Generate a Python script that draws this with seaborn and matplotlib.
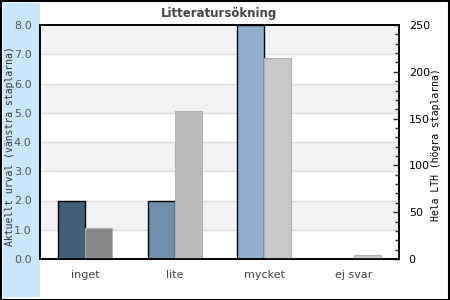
import numpy as np
import pandas as pd
import matplotlib
matplotlib.use("Agg")
import matplotlib.pyplot as plt
import seaborn as sns
from matplotlib.patches import Rectangle
from matplotlib.ticker import MultipleLocator, FormatStrFormatter

categories = ["inget", "lite", "mycket", "ej svar"]
left_values = [2.0, 2.0, 8.0, 0.0]        # Aktuellt urval
right_values = [33, 158, 215, 4]          # Hela LTH
left_colors = ["#3f5f7b", "#6f8fab", "#8eb0cc", "#a8c4da"]
right_colors = ["#888888", "#bbbbbb", "#c8c8c8", "#cccccc"]
title = "Litteratursökning"
left_label = "Aktuellt urval (vänstra staplarna)"
right_label = "Hela LTH (högra staplarna)"

series = ["vänster", "höger"]
df_left = pd.DataFrame({"cat": categories, "serie": series[0], "value": left_values})
df_right = pd.DataFrame({"cat": categories, "serie": series[1], "value": right_values})

sns.set_style("white")
plt.rcParams["font.family"] = ["DejaVu Sans"]

fig = plt.figure(figsize=(4.5, 3.0), dpi=100)
# light blue panel on the left
fig.patches.append(Rectangle((3 / 450, 3 / 300), 37 / 450, 294 / 300,
                             transform=fig.transFigure, facecolor="#c8e7fb",
                             edgecolor="none", zorder=-5))
# outer border
fig.patches.append(Rectangle((0.5 / 450, 0.5 / 300), 448.5 / 450, 298.5 / 300,
                             transform=fig.transFigure, facecolor="none",
                             edgecolor="black", linewidth=1.5, zorder=5))

ax = fig.add_axes([40 / 450, 41 / 300, 359 / 450, 234 / 300])
ax.set_facecolor("white")
for lo in range(0, 8):
    if lo % 2 == 1:
        ax.axhspan(lo, lo + 1, color="#f2f2f2", zorder=0, lw=0)
    if lo > 0:
        ax.axhline(lo, color="#dddddd", lw=1, zorder=0.5)

sns.barplot(data=df_left, x="cat", y="value", hue="serie", hue_order=series,
            order=categories, dodge=True, width=0.6, ax=ax, legend=False,
            errorbar=None, zorder=2)
ax.set_ylim(0, 8)
ax.set_xlim(-0.5, 3.5)

ax2 = ax.twinx()
sns.barplot(data=df_right, x="cat", y="value", hue="serie", hue_order=series,
            order=categories, dodge=True, width=0.6, ax=ax2, legend=False,
            errorbar=None, zorder=2)
ax2.set_ylim(0, 250)
ax2.set_xlim(-0.5, 3.5)

lp = sorted([p for p in ax.patches if isinstance(p, Rectangle) and abs(p.get_width() - 0.3) < 0.01], key=lambda p: p.get_x())
for p, c in zip(lp, left_colors):
    p.set_facecolor(c)
    p.set_edgecolor("black")
    p.set_linewidth(1.0)
    if p.get_height() == 0:
        p.set_visible(False)
rp = sorted([p for p in ax2.patches if isinstance(p, Rectangle) and abs(p.get_width() - 0.3) < 0.01], key=lambda p: p.get_x())
for p, c in zip(rp, right_colors):
    p.set_facecolor(c)
    p.set_edgecolor("#b0b0b0")
    p.set_linewidth(0.8)

ax.set_title(title, fontsize=8.5, fontweight="bold", color="#444444", pad=6)
ax.set_xlabel("")
ax2.set_xlabel("")
ax.set_ylabel(left_label, family="DejaVu Sans Mono", fontsize=7, color="#333333")
ax2.set_ylabel(right_label, family="DejaVu Sans Mono", fontsize=7, color="black")
ax.yaxis.set_label_coords(-0.071, 0.483)
ax2.yaxis.set_label_coords(1.089, 0.49)

ax.yaxis.set_major_locator(MultipleLocator(1))
ax.yaxis.set_major_formatter(FormatStrFormatter("%.1f"))
ax.tick_params(axis="y", length=0, labelsize=8, labelcolor="#555555", pad=6)
ax.tick_params(axis="x", length=0, labelsize=8, labelcolor="#444444", pad=8)

ax2.yaxis.set_major_locator(MultipleLocator(50))
ax2.yaxis.set_minor_locator(MultipleLocator(10))
ax2.tick_params(axis="y", which="major", direction="in", length=4, width=1, labelsize=8, labelcolor="black", pad=7)
ax2.tick_params(axis="y", which="minor", direction="in", length=3, width=1)

for a in (ax, ax2):
    for s in a.spines.values():
        s.set_visible(True)
        s.set_color("black")
        s.set_linewidth(1.2)

fig.savefig("out.png", dpi=100)
